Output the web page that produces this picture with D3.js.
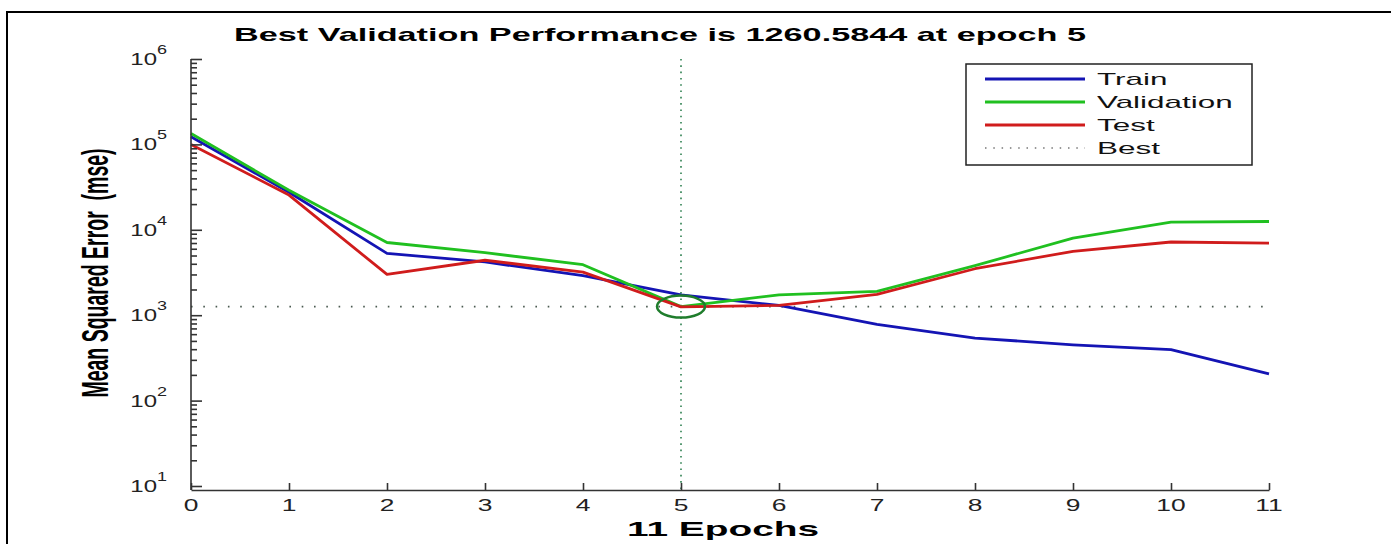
<!DOCTYPE html>
<html>
<head>
<meta charset="utf-8">
<script src="https://cdn.jsdelivr.net/npm/d3@7"></script>
<style>
body { margin: 0; background: #fff; }
svg { display: block; font-family: "Liberation Sans", Arial, sans-serif; }
</style>
</head>
<body>
<svg id="chart"></svg>
<script>
// performance per epoch
var epochs = [0, 1, 2, 3, 4, 5, 6, 7, 8, 9, 10, 11];
var trainPerf = [123000, 27500, 5300, 4200, 2900, 1730, 1300, 780, 540, 450, 395, 205];
var valPerf = [134000, 29000, 7100, 5400, 3900, 1260.5844, 1730, 1900, 3800, 8000, 12300, 12500];
var testPerf = [100000, 25500, 3000, 4400, 3200, 1250, 1300, 1750, 3500, 5600, 7200, 7000];
var bestEpoch = 5;
var bestPerf = 1260.5844;

var xTicks = [0, 1, 2, 3, 4, 5, 6, 7, 8, 9, 10, 11];
var yTicks = [10, 100, 1000, 10000, 100000, 1000000];
var yExponents = ["1", "2", "3", "4", "5", "6"];
var legendLabels = ["Train", "Validation", "Test", "Best"];

var titleText = "Best Validation Performance is 1260.5844 at epoch 5";
var xLabel = "11 Epochs";
var yLabel = "Mean Squared Error  (mse)";

var W = 1391, H = 544;
var SX = 1.85;   // the figure is stretched sideways, text too
var axisY = 490;

var colors = {train: "#1414b4", val: "#20c020", test: "#d01c1c"};

var svg = d3.select("#chart").attr("width", W).attr("height", H);

var x = d3.scaleLinear().domain([0, 11]).range([191, 1269]);
var y = d3.scaleLog().domain([10, 1e6]).range([486, 59]);

// outer frame
svg.append("rect")
  .attr("x", 7).attr("y", 12)
  .attr("width", W).attr("height", H)
  .attr("fill", "none").attr("stroke", "#000").attr("stroke-width", 2);

// best markers (under the curves)
svg.append("line")
  .attr("x1", x(bestEpoch)).attr("x2", x(bestEpoch))
  .attr("y1", y(1e6)).attr("y2", axisY)
  .attr("stroke", "#2e8050").attr("stroke-width", 1.6)
  .attr("stroke-dasharray", "1.6,4.7");

svg.append("line")
  .attr("x1", x(0)).attr("x2", x(11))
  .attr("y1", y(bestPerf)).attr("y2", y(bestPerf))
  .attr("stroke", "#4a5a50").attr("stroke-width", 1.6)
  .attr("stroke-dasharray", "1.6,10.7");

var line = d3.line()
  .x(function(d, i) { return x(epochs[i]); })
  .y(function(d) { return y(d); });

[[trainPerf, colors.train], [valPerf, colors.val], [testPerf, colors.test]].forEach(function(s) {
  svg.append("path")
    .datum(s[0])
    .attr("d", line)
    .attr("fill", "none")
    .attr("stroke", s[1])
    .attr("stroke-width", 2.8)
    .attr("stroke-linejoin", "round");
});

svg.append("ellipse")
  .attr("cx", x(bestEpoch)).attr("cy", y(bestPerf))
  .attr("rx", 24).attr("ry", 11)
  .attr("fill", "none")
  .attr("stroke", "#1f7d2c").attr("stroke-width", 2.5);

// axes
svg.append("g")
  .attr("class", "ax")
  .attr("transform", "translate(0," + axisY + ")")
  .call(d3.axisBottom(x).tickValues(xTicks).tickSizeInner(-7).tickSizeOuter(0).tickFormat(""));

var yAxis = svg.append("g")
  .attr("class", "ax")
  .attr("transform", "translate(" + x(0) + ",0)")
  .call(d3.axisLeft(y).tickValues(yTicks).tickSizeInner(-11).tickSizeOuter(0).tickFormat(""));

var minors = [];
yTicks.slice(0, -1).forEach(function(t) {
  for (var k = 2; k <= 9; k++) minors.push(t * k);
});
var yMinor = svg.append("g")
  .attr("class", "ax")
  .attr("transform", "translate(" + x(0) + ",0)")
  .call(d3.axisLeft(y).tickValues(minors).tickSizeInner(-6).tickSizeOuter(0).tickFormat(""));

yAxis.select(".domain").remove();
yMinor.select(".domain").remove();
svg.append("line")
  .attr("class", "ylinе")
  .attr("x1", x(0)).attr("x2", x(0))
  .attr("y1", y(1e6)).attr("y2", axisY)
  .attr("stroke", "#333").attr("stroke-width", 1.6);

svg.selectAll(".ax .tick line, .ax .domain").attr("stroke", "#333").attr("stroke-width", 1.6);

// tick labels
svg.append("g").selectAll("text")
  .data(xTicks)
  .enter().append("text")
  .attr("transform", function(d) { return "translate(" + x(d) + ",511) scale(1.65,1)"; })
  .attr("text-anchor", "middle")
  .attr("font-size", 16)
  .attr("fill", "#222")
  .text(function(d) { return d; });

var yl = svg.append("g").selectAll("text")
  .data(yTicks)
  .enter().append("text")
  .attr("transform", function(d) { return "translate(167," + (y(d) + 6) + ") scale(1.5,1)"; })
  .attr("text-anchor", "end")
  .attr("font-size", 16)
  .attr("fill", "#222");
yl.append("tspan").text("10");
yl.append("tspan")
  .attr("dy", -11)
  .attr("font-size", 12)
  .text(function(d, i) { return yExponents[i]; });

// title and axis labels
svg.append("text")
  .attr("transform", "translate(660,41) scale(" + SX + ",1)")
  .attr("text-anchor", "middle")
  .attr("font-size", 18.5)
  .attr("font-weight", "bold")
  .text(titleText);

svg.append("text")
  .attr("transform", "translate(723,536) scale(" + SX + ",1)")
  .attr("text-anchor", "middle")
  .attr("font-size", 21)
  .attr("font-weight", "bold")
  .text(xLabel);

svg.append("text")
  .attr("transform", "translate(108,273) scale(" + SX + ",1) rotate(-90)")
  .attr("text-anchor", "middle")
  .attr("font-size", 19.5)
  .attr("font-weight", "bold")
  .style("white-space", "pre")
  .text(yLabel);

// legend
var legend = svg.append("g").attr("transform", "translate(966,64)");
legend.append("rect")
  .attr("width", 286).attr("height", 101)
  .attr("fill", "#fff").attr("stroke", "#222").attr("stroke-width", 1.5);

var legendColors = [colors.train, colors.val, colors.test, "#777"];
legendLabels.forEach(function(lab, i) {
  var ry = 15 + i * 23;
  legend.append("line")
    .attr("x1", 19).attr("x2", 119)
    .attr("y1", ry).attr("y2", ry)
    .attr("stroke", legendColors[i])
    .attr("stroke-width", i < 3 ? 2.8 : 1.4)
    .attr("stroke-dasharray", i < 3 ? null : "1.5,6.8");
  legend.append("text")
    .attr("transform", "translate(131," + (ry + 6) + ") scale(" + SX + ",1)")
    .attr("font-size", 17)
    .attr("fill", "#111")
    .text(lab);
});
</script>
</body>
</html>
